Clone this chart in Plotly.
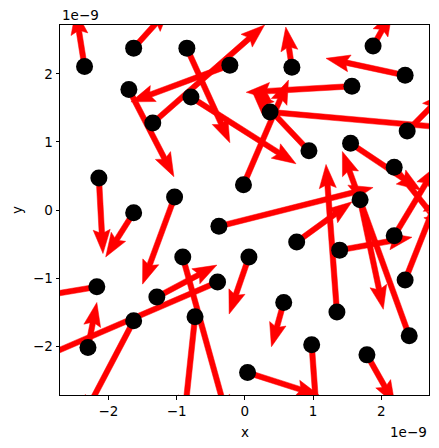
import numpy as np
import plotly.graph_objs as go

# positions des points (unites de 1e-9)
x = [-2.35, -1.63, -0.85, -0.22, -1.70, -1.35, -0.79, -2.14, -1.63, -1.03,
     -0.38, -0.02, 0.37, 0.69, 1.57, 1.88, 2.35, 2.38, 0.94, 1.55,
     2.19, 1.69, 0.76, 1.39, 2.19, 0.06, -0.91, -2.17, -0.40, 2.35,
     -1.29, 0.57, 1.35, -1.63, -0.73, 2.41, -2.30, 0.98, 1.79, 0.04]
y = [2.11, 2.38, 2.38, 2.13, 1.77, 1.28, 1.66, 0.47, -0.04, 0.19,
     -0.24, 0.37, 1.44, 2.10, 1.82, 2.41, 1.98, 1.16, 0.87, 0.98,
     0.63, 0.15, -0.47, -0.59, -0.38, -0.69, -0.69, -1.13, -1.06, -1.03,
     -1.28, -1.36, -1.50, -1.63, -1.57, -1.85, -2.02, -1.98, -2.13, -2.39]
# composantes des vecteurs
u = [-0.13, 0.53, 0.63, -1.45, 0.66, 1.64, 1.54, 0.06, -0.41, -0.47,
     2.26, 0.66, 2.93, -0.09, -1.55, 0.28, -1.16, 0.56, -0.84, 1.03,
     0.75, 0.34, 0.81, 1.06, 0.62, -0.29, 0.66, -1.13, -2.76, 0.51,
     0.88, -0.18, -0.16, -0.76, -0.16, -0.98, 0.13, 0.09, 0.41, 1.06]
v = [0.82, 0.59, -1.39, -0.54, -1.28, 1.44, -0.98, -1.11, -0.65, -1.28,
     0.57, 1.54, -0.26, 0.59, -0.09, 0.50, 0.25, 0.57, 0.89, -0.69,
     -0.94, -1.61, 0.59, 0.19, 1.03, -0.84, -2.39, -0.19, -1.19, 1.29,
     0.47, -0.65, 2.17, -1.45, -1.51, 2.71, 0.66, -1.25, -0.73, -0.34]

ticks = [-2, -1, 0, 1, 2]

# forme des fleches (comme quiver), en unites de donnees
larg = 0.08
tete_l = 0.35
tete_ax = 0.31
tete_w = 0.125

px, py = [], []
for x0, y0, du, dv in zip(x, y, u, v):
    L = np.hypot(du, dv)
    d = np.array([du, dv]) / L
    n = np.array([-d[1], d[0]])
    pts = [(0, -larg / 2), (L - tete_ax, -larg / 2), (L - tete_l, -tete_w), (L, 0),
           (L - tete_l, tete_w), (L - tete_ax, larg / 2), (0, larg / 2), (0, -larg / 2)]
    for s, t in pts:
        p = np.array([x0, y0]) + s * d + t * n
        px.append(p[0])
        py.append(p[1])
    px.append(None)
    py.append(None)

trace1 = go.Scatter(x=px, y=py, mode='lines', fill='toself', fillcolor='#ff0000',
                    line={'color': '#ff0000', 'width': 0.5}, hoverinfo='skip')
trace2 = go.Scatter(x=x, y=y, mode='markers', marker={'color': 'black', 'size': 17},
                    hoverinfo='skip')

fonte = {'family': 'DejaVu Sans', 'size': 13.5, 'color': 'black'}
axe = dict(showline=True, mirror=True, linecolor='black', linewidth=1,
           ticks='outside', ticklen=3.5, tickcolor='black', showgrid=False,
           zeroline=False, tickvals=ticks, tickfont=fonte)

# la page html ajoute 8px de marge autour de la figure
layout = go.Layout(width=431, height=440, showlegend=False,
                   margin={'l': 52, 'r': 10, 't': 17, 'b': 53},
                   plot_bgcolor='white', paper_bgcolor='white', font=fonte,
                   xaxis=dict(axe, range=[-2.71, 2.70]),
                   yaxis=dict(axe, range=[-2.72, 2.72]),
                   annotations=[
                       dict(text='x', x=0.5, y=0, xref='paper', yref='paper',
                            xanchor='center', yanchor='top', yshift=-27, showarrow=False),
                       dict(text='y', x=0, y=0.5, xref='paper', yref='paper', textangle=-90,
                            xanchor='center', yanchor='middle', xshift=-43, showarrow=False),
                       dict(text='1e\u22129', x=0, y=1, xref='paper', yref='paper',
                            xanchor='left', yanchor='bottom', yshift=0, showarrow=False),
                       dict(text='1e\u22129', x=1, y=0, xref='paper', yref='paper',
                            xanchor='right', yanchor='top', yshift=-27, showarrow=False),
                   ])

fig = go.Figure(data=[trace1, trace2], layout=layout)
fig.write_html("out.html", config={'displayModeBar': False})
